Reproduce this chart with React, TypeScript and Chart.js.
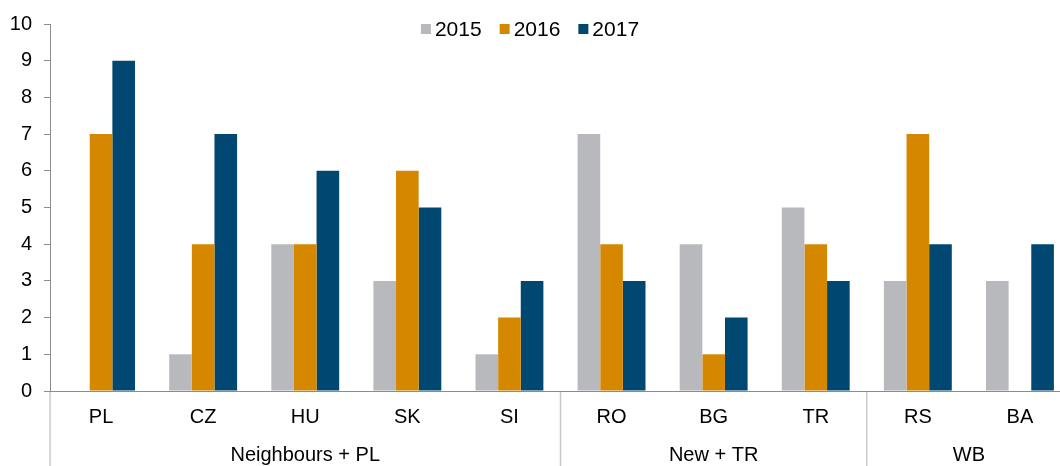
import React, { useEffect, useRef } from "react";
import { Chart, registerables } from "chart.js";

Chart.register(...registerables);

const categories = ["PL", "CZ", "HU", "SK", "SI", "RO", "BG", "TR", "RS", "BA"];
const values2015 = [0, 1, 4, 3, 1, 7, 4, 5, 3, 3];
const values2016 = [7, 4, 4, 6, 2, 4, 1, 4, 7, 0];
const values2017 = [9, 7, 6, 5, 3, 3, 2, 3, 4, 4];
const seriesLabels = ["2015", "2016", "2017"];
const seriesColors = ["#b8b9bd", "#d68700", "#004872"];
const groupLabels = ["Neighbours + PL", "New + TR", "WB"];
const groupSizes = [5, 3, 2];

const FONT = "'Liberation Sans', Arial, sans-serif";

const groupPlugin = {
  id: "groupPlugin",
  afterDraw(chart: any) {
    const ctx = chart.ctx;
    const xs = chart.scales.x;
    const area = chart.chartArea;
    const n = categories.length;
    const cw = (xs.right - xs.left) / n;
    ctx.save();
    ctx.strokeStyle = "#c9c9c9";
    ctx.lineWidth = 1.5;
    let idx = 0;
    const bounds: number[] = [0];
    groupSizes.forEach((s) => {
      idx += s;
      bounds.push(idx);
    });
    bounds.forEach((b) => {
      const x = xs.left + b * cw;
      ctx.beginPath();
      ctx.moveTo(x, area.bottom + 1);
      ctx.lineTo(x, chart.height);
      ctx.stroke();
    });
    ctx.fillStyle = "#000";
    ctx.font = `20px ${FONT}`;
    ctx.textAlign = "center";
    ctx.textBaseline = "middle";
    groupLabels.forEach((lab, i) => {
      const x0 = xs.left + bounds[i] * cw;
      const x1 = xs.left + bounds[i + 1] * cw;
      ctx.fillText(lab, (x0 + x1) / 2, 455);
    });
    ctx.font = `21px ${FONT}`;
    ctx.textAlign = "left";
    const box = 10;
    const gapBox = 4;
    const gapItem = 18;
    const widths = seriesLabels.map((l) => ctx.measureText(l).width);
    let total = 0;
    widths.forEach((w, i) => {
      total += box + gapBox + w + (i < widths.length - 1 ? gapItem : 0);
    });
    let x = 530 - total / 2;
    const cy = 29;
    seriesLabels.forEach((l, i) => {
      ctx.fillStyle = seriesColors[i];
      ctx.fillRect(x, cy - box / 2, box, box);
      ctx.fillStyle = "#000";
      ctx.fillText(l, x + box + gapBox, cy + 1);
      x += box + gapBox + widths[i] + gapItem;
    });
    ctx.restore();
  },
};

export default function App() {
  const ref = useRef<HTMLCanvasElement>(null);
  useEffect(() => {
    if (!ref.current) return;
    const data = [values2015, values2016, values2017];
    const chart = new Chart(ref.current, {
      type: "bar",
      data: {
        labels: categories,
        datasets: data.map((d, i) => ({
          label: seriesLabels[i],
          data: d,
          backgroundColor: seriesColors[i],
          borderWidth: 0,
          barPercentage: 1,
          categoryPercentage: 0.665,
        })),
      },
      options: {
        animation: false,
        responsive: false,
        devicePixelRatio: 1,
        layout: { padding: { top: 20, left: 0, right: 0, bottom: 0 } },
        plugins: { legend: { display: false }, tooltip: { enabled: false } },
        scales: {
          x: {
            grid: { display: false, drawTicks: false },
            border: { display: true, color: "#8c8c8c", width: 1 },
            ticks: {
              color: "#000",
              font: { family: FONT, size: 20 },
              padding: 14,
              maxRotation: 0,
              autoSkip: false,
            },
            afterFit(scale: any) {
              scale.height = 75;
            },
          },
          y: {
            min: 0,
            max: 10,
            grid: {
              drawOnChartArea: false,
              drawTicks: true,
              tickLength: 6,
              color: "#8c8c8c",
            },
            border: { display: true, color: "#8c8c8c", width: 1 },
            ticks: {
              stepSize: 1,
              color: "#000",
              font: { family: FONT, size: 20 },
              padding: 12,
            },
            afterFit(scale: any) {
              scale.width = 50;
            },
          },
        },
      },
      plugins: [groupPlugin],
    });
    return () => chart.destroy();
  }, []);
  return (
    <div
      style={{
        position: "fixed",
        left: 0,
        top: 0,
        width: 1060,
        height: 466,
        overflow: "hidden",
        background: "#fff",
      }}
    >
      <canvas ref={ref} width={1071} height={466} style={{ display: "block" }} />
    </div>
  );
}
